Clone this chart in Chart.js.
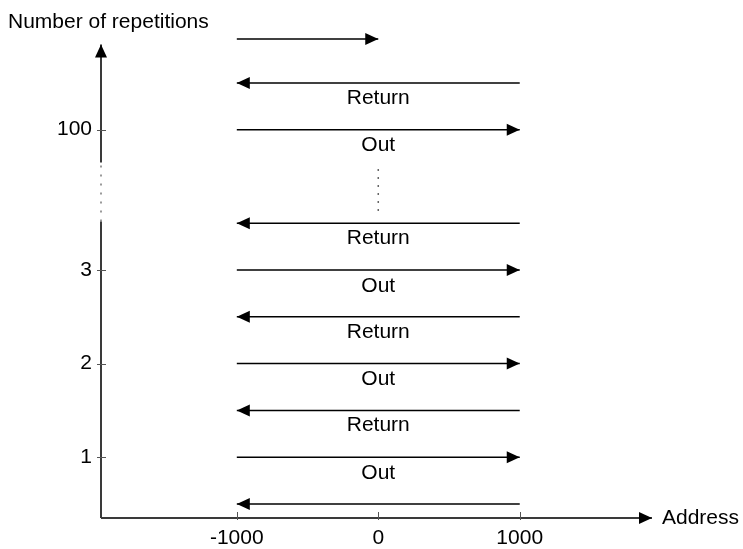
<!DOCTYPE html>
<html>
<head>
<title>Out and return passes</title>
<script src="https://cdn.jsdelivr.net/npm/chart.js@4.4.0/dist/chart.umd.min.js"></script>
<style>body { margin: 0; background: #fff; }</style>
</head>
<body>
<canvas id="passChart" width="743" height="549"></canvas>
<script>
// y positions are in "row" units; 100 sits at 4.5, just above the axis break
var yTickValues = [1, 2, 3, 4.5];
var yTickLabels = ['1', '2', '3', '100'];
var xTickValues = [-1000, 0, 1000];
var xTickLabels = ['-1000', '0', '1000'];

var outRows = [1, 2, 3, 4.5];
var outLabels = ['Out', 'Out', 'Out', 'Out'];
var returnRows = [0.5, 1.5, 2.5, 3.5, 5];
var returnLabels = ['', 'Return', 'Return', 'Return', 'Return'];
var startAddr = -1000, endAddr = 1000;
var partialRow = 5.47, partialEnd = 0;   // the pass still running at the top

var xMin = -1960, xMax = 1935, yMin = 0.35, yMax = 5.48;
var yAxisTop = 5.41;
var breakLow = 3.52, breakHigh = 4.15;   // dotted part of the y axis
var gapDots = [3.63, 4.13];              // dotted line between the passes

var xTitle = 'Address';
var yTitle = 'Number of repetitions';

Chart.defaults.font.family = '"Liberation Sans", Arial, sans-serif';
Chart.defaults.font.size = 21;
Chart.defaults.color = '#000';

function seg(x1, y1, x2, y2, color, width, arrow, dash) {
    return {
        data: [{x: x1, y: y1}, {x: x2, y: y2}],
        showLine: true,
        borderColor: color,
        backgroundColor: color,
        borderWidth: width,
        borderDash: dash || [],
        pointRadius: 0,
        clip: false,
        arrow: arrow
    };
}

var datasets = [];
// axes
datasets.push(seg(xMin, yMin, xMax, yMin, '#3a3a3a', 2, true));
datasets.push(seg(xMin, yMin, xMin, breakLow, '#3a3a3a', 2, false));
datasets.push(seg(xMin, breakLow, xMin, breakHigh, '#9a9a9a', 2, false, [2, 7]));
datasets.push(seg(xMin, breakHigh, xMin, yAxisTop, '#3a3a3a', 2, true));
// passes
outRows.forEach(function(r) { datasets.push(seg(startAddr, r, endAddr, r, '#000', 1.5, true)); });
returnRows.forEach(function(r) { datasets.push(seg(endAddr, r, startAddr, r, '#000', 1.5, true)); });
datasets.push(seg(startAddr, partialRow, partialEnd, partialRow, '#000', 1.5, true));
datasets.push(seg(0, gapDots[0], 0, gapDots[1], '#666', 1.5, false, [2, 6]));

var decor = {
    id: 'decor',
    afterDatasetsDraw: function(chart) {
        var ctx = chart.ctx;
        var xs = chart.scales.x, ys = chart.scales.y;
        ctx.save();

        // arrow heads at the last point of each marked line
        chart.data.datasets.forEach(function(ds, i) {
            if (!ds.arrow) return;
            var pts = chart.getDatasetMeta(i).data;
            var a = pts[0], b = pts[1];
            var ang = Math.atan2(b.y - a.y, b.x - a.x);
            var len = 13, half = 6;
            ctx.fillStyle = '#000';
            ctx.beginPath();
            ctx.moveTo(b.x, b.y);
            ctx.lineTo(b.x - len * Math.cos(ang) + half * Math.sin(ang), b.y - len * Math.sin(ang) - half * Math.cos(ang));
            ctx.lineTo(b.x - len * Math.cos(ang) - half * Math.sin(ang), b.y - len * Math.sin(ang) + half * Math.cos(ang));
            ctx.closePath();
            ctx.fill();
        });

        // small tick marks crossing the axes
        ctx.strokeStyle = '#555';
        ctx.lineWidth = 1;
        var ax = xs.getPixelForValue(xMin), ay = ys.getPixelForValue(yMin);
        yTickValues.forEach(function(v) {
            var py = Math.round(ys.getPixelForValue(v)) + 0.5;
            ctx.beginPath(); ctx.moveTo(ax - 4, py); ctx.lineTo(ax + 5, py); ctx.stroke();
        });
        xTickValues.forEach(function(v) {
            var px = Math.round(xs.getPixelForValue(v)) + 0.5;
            ctx.beginPath(); ctx.moveTo(px, ay - 6); ctx.lineTo(px, ay + 2); ctx.stroke();
        });

        // pass labels
        ctx.fillStyle = '#000';
        ctx.font = '21px "Liberation Sans", Arial, sans-serif';
        ctx.textAlign = 'center';
        ctx.textBaseline = 'middle';
        var cx = xs.getPixelForValue(0);
        outRows.forEach(function(r, k) {
            if (outLabels[k]) ctx.fillText(outLabels[k], cx, ys.getPixelForValue(r) + 16);
        });
        returnRows.forEach(function(r, k) {
            if (returnLabels[k]) ctx.fillText(returnLabels[k], cx, ys.getPixelForValue(r) + 15);
        });

        // axis titles
        ctx.textAlign = 'left';
        ctx.fillText(yTitle, 8, 22);
        ctx.fillText(xTitle, xs.getPixelForValue(xMax) + 10, ay);
        ctx.restore();
    }
};

new Chart(document.getElementById('passChart'), {
    type: 'scatter',
    data: {datasets: datasets},
    options: {
        responsive: false,
        animation: false,
        layout: {padding: {top: 38, right: 91, left: 0, bottom: 0}},
        plugins: {legend: {display: false}, tooltip: {enabled: false}},
        scales: {
            x: {
                min: xMin, max: xMax,
                grid: {display: false, drawTicks: false},
                border: {display: false},
                afterBuildTicks: function(s) { s.ticks = xTickValues.map(function(v) { return {value: v}; }); },
                afterFit: function(s) { s.height = 31; },
                ticks: {
                    padding: 8,
                    maxRotation: 0,
                    callback: function(v) { return xTickLabels[xTickValues.indexOf(v)]; }
                }
            },
            y: {
                min: yMin, max: yMax,
                grid: {display: false, drawTicks: false},
                border: {display: false},
                afterBuildTicks: function(s) { s.ticks = yTickValues.map(function(v) { return {value: v}; }); },
                afterFit: function(s) { s.width = 101; },
                ticks: {
                    padding: 9,
                    callback: function(v) { return yTickLabels[yTickValues.indexOf(v)]; }
                }
            }
        }
    },
    plugins: [decor]
});
</script>
</body>
</html>
